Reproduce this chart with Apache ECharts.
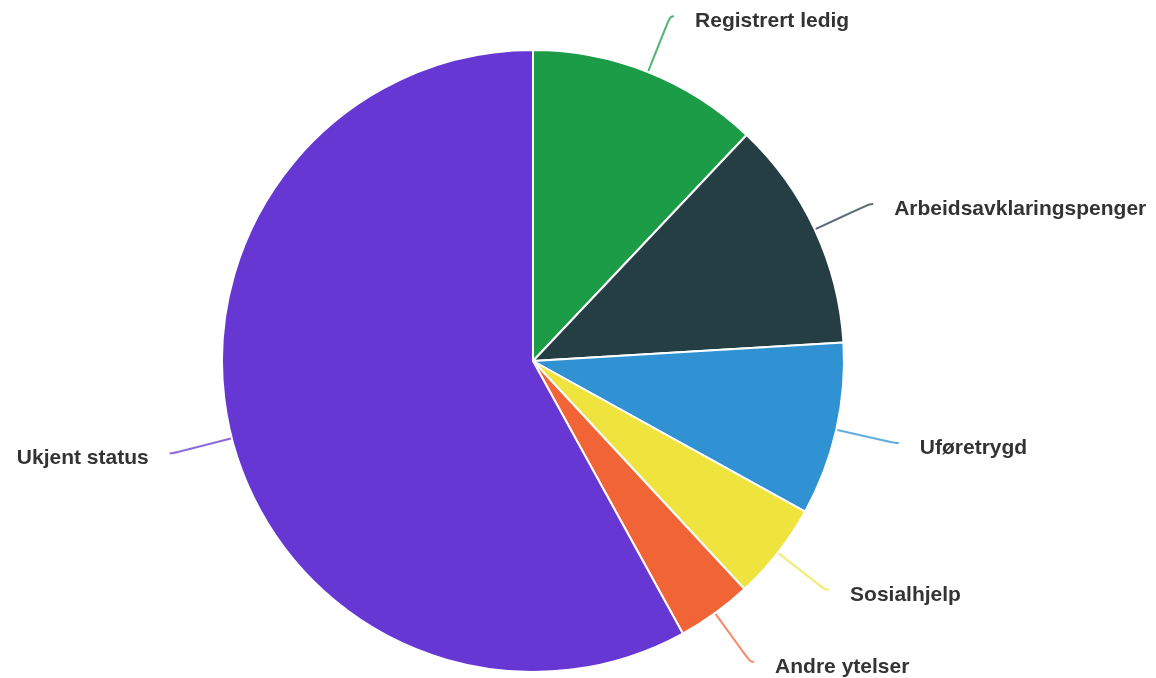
<!DOCTYPE html>
<html>
<head>
<meta charset="utf-8">
<script src="https://cdn.jsdelivr.net/npm/echarts@6/dist/echarts.min.js"></script>
<style>
html,body{margin:0;padding:0;background:#fff;}
#c{width:1156px;height:678px;}
</style>
</head>
<body>
<div id="c"></div>
<script>
const categories = ["Registrert ledig","Arbeidsavklaringspenger","Uføretrygd","Sosialhjelp","Andre ytelser","Ukjent status"];
const values = [12.05, 12.0, 9.0, 5.05, 3.9, 58.0];
const colors = ["#1d9c48","#253e44","#3192d3","#eee43d","#f16436","#6737d3"];

const chart = echarts.init(document.getElementById('c'));
chart.setOption({
  animation: false,
  series: [{
    type: 'pie',
    center: [533, 361],
    radius: 311,
    startAngle: 90,
    clockwise: true,
    data: categories.map((n, i) => ({name: n, value: values[i], itemStyle: {color: colors[i]}, labelLine: {lineStyle: {color: colors[i]}}})),
    itemStyle: {borderColor: '#fff', borderWidth: 2},
    label: {
      show: true,
      formatter: '{b}',
      overflow: 'none',
      fontFamily: 'Liberation Sans, Arial, sans-serif',
      fontWeight: 'bold',
      fontSize: 21,
      color: '#333',
      padding: [0, 16]
    },
    labelLayout: function () { return { dy: 5 }; },
    labelLine: {show: true, length: 60, length2: 4, smooth: 0.5, lineStyle: {width: 2, opacity: 0.75}}
  }]
});
</script>
</body>
</html>
